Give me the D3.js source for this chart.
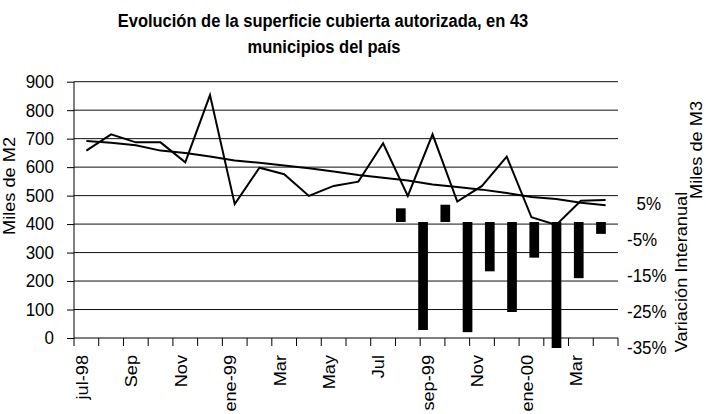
<!DOCTYPE html>
<html>
<head>
<meta charset="utf-8">
<script src="https://cdn.jsdelivr.net/npm/d3@7"></script>
<style>
  body { margin: 0; background: #fff; }
  svg { display: block; font-family: "Liberation Sans", Arial, sans-serif; }
</style>
</head>
<body>
<svg id="chart" width="706" height="414"></svg>
<script>
// months on the main category axis
const months = ["jul-98","ago-98","sep-98","oct-98","nov-98","dic-98","ene-99","feb-99","mar-99","abr-99","may-99","jun-99",
                "jul-99","ago-99","sep-99","oct-99","nov-99","dic-99","ene-00","feb-00","mar-00","abr-00"];
const monthLabels = ["jul-98","","Sep","","Nov","","ene-99","","Mar","","May","",
                     "Jul","","sep-99","","Nov","","ene-00","","Mar",""];
// Miles de M2
const superficie = [658,715,687,687,617,853,470,598,575,499,534,549,684,499,715,479,534,637,424,397,482,485];
const tendencia  = [692,686,677,658,650,637,623,615,606,596,585,572,563,553,539,530,521,509,495,488,475,466];
// variación interanual (%)
const barMonths = ["jul-99","ago-99","sep-99","oct-99","nov-99","dic-99","ene-00","feb-00","mar-00","abr-00"];
const variacion = [3.8,-30.0,4.8,-30.6,-13.7,-25.0,-9.9,-35.0,-15.6,-3.3];
const leftTicks = [0,100,200,300,400,500,600,700,800,900];
const rightTicks = [5,-5,-15,-25,-35];

const svg = d3.select("#chart");
const fs = 17, sy = 1.07;   // text is a bit taller than wide in the original

const x = d3.scaleBand().domain(months).range([74, 618]).padding(0);
const y = d3.scaleLinear().domain([0, 900]).range([338, 81.7]);
const xb = d3.scaleBand().domain(barMonths).range([389.7, 612.1]).paddingInner(0.564).paddingOuter(0.282);
const y2 = d3.scaleLinear().domain([-35, 5]).range([348, 204]);

// title
svg.append("text")
    .attr("text-anchor", "middle")
    .attr("transform", `translate(323,27) scale(1,${sy})`)
    .style("font-size", "16.5px").style("font-weight", "bold")
    .text("Evolución de la superficie cubierta autorizada, en 43");
svg.append("text")
    .attr("text-anchor", "middle")
    .attr("transform", `translate(324,53) scale(1,${sy})`)
    .style("font-size", "16.5px").style("font-weight", "bold")
    .text("municipios del país");

// gridlines
svg.append("g").selectAll("line")
    .data(leftTicks.slice(1))
    .enter().append("line")
    .attr("x1", 74).attr("x2", 618)
    .attr("y1", d => y(d)).attr("y2", d => y(d))
    .attr("stroke", "#111").attr("stroke-width", 1);

// left axis
const gy = svg.append("g")
    .attr("transform", "translate(74,0)")
    .call(d3.axisLeft(y).tickValues(leftTicks).tickSize(7).tickPadding(13));
gy.select(".domain").attr("stroke", "#000").attr("d", `M0,${y(900)}V${y(0)}`);
gy.selectAll(".tick line").attr("stroke", "#000");
gy.selectAll(".tick text")
    .attr("fill", "#000")
    .style("font-size", fs + "px")
    .attr("transform", `scale(1,${sy})`)
    .attr("font-family", null);

// x axis line and ticks at category boundaries
svg.append("line")
    .attr("x1", 74).attr("x2", 618)
    .attr("y1", y(0)).attr("y2", y(0))
    .attr("stroke", "#000");
svg.append("g").selectAll("line")
    .data(months.map(m => x(m)).concat([x.range()[1]]))
    .enter().append("line")
    .attr("x1", d => d).attr("x2", d => d)
    .attr("y1", y(0)).attr("y2", y(0) + 8)
    .attr("stroke", "#000");

svg.append("g").selectAll("text")
    .data(months.filter((m, i) => monthLabels[i] !== ""))
    .enter().append("text")
    .attr("text-anchor", "end")
    .attr("dy", "0.08em")
    .attr("transform", d => `translate(${x(d) + x.bandwidth() / 2},355) scale(1,${sy}) rotate(-90)`)
    .style("font-size", fs + "px")
    .text(d => monthLabels[months.indexOf(d)]);

// bars (secondary axis)
svg.append("g").selectAll("rect")
    .data(variacion)
    .enter().append("rect")
    .attr("x", (d, i) => xb(barMonths[i]))
    .attr("width", xb.bandwidth())
    .attr("y", d => y2(Math.max(0, d)))
    .attr("height", d => Math.abs(y2(d) - y2(0)))
    .attr("fill", "#000");

// right axis labels
svg.append("g").selectAll("text")
    .data(rightTicks)
    .enter().append("text")
    .attr("x", 0).attr("dy", "0.32em")
    .attr("transform", d => `translate(627,${y2(d)}) scale(1,${sy})`)
    .style("font-size", fs + "px")
    .text(d => (d > 0 ? "\u2007" : "") + d + "%");

// lines
const line = d3.line()
    .x((d, i) => x(months[i]) + x.bandwidth() / 2)
    .y(d => y(d));
svg.append("path").datum(tendencia)
    .attr("d", line).attr("fill", "none")
    .attr("stroke", "#000").attr("stroke-width", 2);
svg.append("path").datum(superficie)
    .attr("d", line).attr("fill", "none")
    .attr("stroke", "#000").attr("stroke-width", 2).attr("stroke-linejoin", "miter");

// axis titles
svg.append("text")
    .attr("text-anchor", "middle")
    .attr("transform", `translate(15,186) scale(1,${sy}) rotate(-90)`)
    .style("font-size", fs + "px")
    .text("Miles de M2");
svg.append("text")
    .attr("text-anchor", "middle")
    .attr("transform", `translate(687,272) scale(1,${sy}) rotate(-90)`)
    .style("font-size", fs + "px")
    .text("Variación Interanual");
svg.append("text")
    .attr("text-anchor", "middle")
    .attr("transform", `translate(702,150) scale(1,${sy}) rotate(-90)`)
    .style("font-size", fs + "px")
    .text("Miles de M3");
</script>
</body>
</html>
